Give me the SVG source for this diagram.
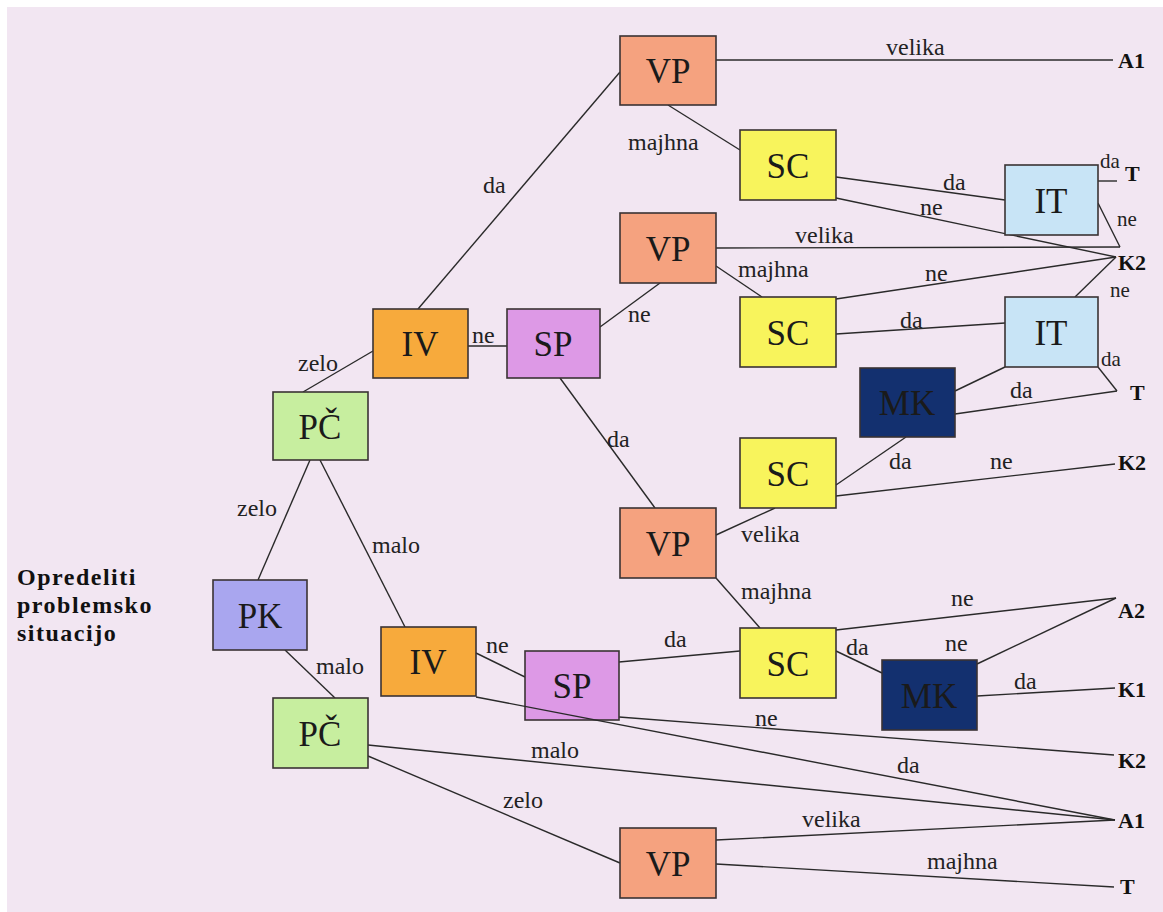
<svg xmlns="http://www.w3.org/2000/svg" width="1163" height="912" viewBox="0 0 1163 912" font-family="Liberation Serif, DejaVu Serif, serif">
<style>
.n{stroke:#3a3334;stroke-width:1.6}
.t{font-family:'Liberation Serif',serif;font-size:35px;fill:#1a1a1a;text-anchor:middle}
.l{font-family:'Liberation Serif',serif;font-size:24px;fill:#222}
.s{font-size:21px}
.e{font-family:'Liberation Serif',serif;font-size:22px;font-weight:bold;fill:#111}
.c line{stroke:#2a2a2a;stroke-width:1.4}
.vp{fill:#f5a27f}.sc{fill:#f8f45c}.it{fill:#c8e4f6}.iv{fill:#f7aa3c}.sp{fill:#dd99e6}.mk{fill:#13306f}.pc{fill:#c7ee9f}.pk{fill:#a9a6ef}
</style>
<rect width="1163" height="912" fill="#ffffff"/>
<rect x="7" y="7" width="1156" height="905" fill="#f2e6f2"/>
<g class="c" id="connectors">
<line x1="716" y1="60" x2="1113" y2="60"/>
<line x1="668" y1="105" x2="740" y2="150"/>
<line x1="418" y1="309" x2="620" y2="72"/>
<line x1="836" y1="177" x2="1005" y2="200"/>
<line x1="836" y1="198" x2="1116" y2="257"/>
<line x1="1098" y1="181" x2="1117" y2="181"/>
<line x1="1098" y1="203" x2="1120" y2="247"/>
<line x1="716" y1="248" x2="1120" y2="247"/>
<line x1="716" y1="266" x2="762" y2="297"/>
<line x1="836" y1="299" x2="1116" y2="257"/>
<line x1="1075" y1="297" x2="1116" y2="257"/>
<line x1="600" y1="327" x2="660" y2="283"/>
<line x1="468" y1="346" x2="507" y2="346"/>
<line x1="836" y1="334" x2="1005" y2="323"/>
<line x1="1005" y1="367" x2="955" y2="391"/>
<line x1="1098" y1="367" x2="1117" y2="391"/>
<line x1="955" y1="414" x2="1117" y2="391"/>
<line x1="303" y1="392" x2="373" y2="351"/>
<line x1="560" y1="378" x2="655" y2="508"/>
<line x1="836" y1="496" x2="1115" y2="464"/>
<line x1="836" y1="485" x2="906" y2="437"/>
<line x1="716" y1="535" x2="775" y2="508"/>
<line x1="716" y1="578" x2="760" y2="628"/>
<line x1="258" y1="580" x2="310" y2="460"/>
<line x1="320" y1="460" x2="405" y2="627"/>
<line x1="285" y1="650" x2="335" y2="698"/>
<line x1="619" y1="662" x2="740" y2="651"/>
<line x1="836" y1="630" x2="1116" y2="598"/>
<line x1="836" y1="651" x2="882" y2="673"/>
<line x1="977" y1="664" x2="1116" y2="598"/>
<line x1="977" y1="696" x2="1115" y2="688"/>
<line x1="476" y1="653" x2="525" y2="677"/>
<line x1="619" y1="717" x2="1114" y2="755"/>
<line x1="368" y1="745" x2="1115" y2="820"/>
<line x1="368" y1="756" x2="620" y2="863"/>
<line x1="716" y1="840" x2="1115" y2="820"/>
<line x1="716" y1="864" x2="1114" y2="887"/>
</g>
<g id="edge-labels">
<text class="l" x="886" y="55">velika</text>
<text class="l" x="628" y="150">majhna</text>
<text class="l" x="483" y="193">da</text>
<text class="l" x="943" y="190">da</text>
<text class="l" x="920" y="215">ne</text>
<text class="l s" x="1100" y="168">da</text>
<text class="l s" x="1117" y="226">ne</text>
<text class="l" x="795" y="243">velika</text>
<text class="l" x="738" y="277">majhna</text>
<text class="l" x="925" y="281">ne</text>
<text class="l s" x="1110" y="297">ne</text>
<text class="l" x="628" y="322">ne</text>
<text class="l" x="472" y="343">ne</text>
<text class="l" x="900" y="328">da</text>
<text class="l s" x="1101" y="366">da</text>
<text class="l" x="1010" y="398">da</text>
<text class="l" x="298" y="371">zelo</text>
<text class="l" x="607" y="447">da</text>
<text class="l" x="889" y="469">da</text>
<text class="l" x="990" y="469">ne</text>
<text class="l" x="741" y="542">velika</text>
<text class="l" x="741" y="599">majhna</text>
<text class="l" x="237" y="516">zelo</text>
<text class="l" x="372" y="553">malo</text>
<text class="l" x="316" y="674">malo</text>
<text class="l" x="664" y="647">da</text>
<text class="l" x="951" y="606">ne</text>
<text class="l" x="846" y="655">da</text>
<text class="l" x="945" y="651">ne</text>
<text class="l" x="1014" y="689">da</text>
<text class="l" x="486" y="653">ne</text>
<text class="l" x="755" y="726">ne</text>
<text class="l" x="897" y="773">da</text>
<text class="l" x="531" y="758">malo</text>
<text class="l" x="503" y="808">zelo</text>
<text class="l" x="802" y="827">velika</text>
<text class="l" x="927" y="869">majhna</text>
</g>
<g id="end-labels">
<text class="e" x="1118" y="68">A1</text>
<text class="e" x="1125" y="181">T</text>
<text class="e" x="1118" y="270">K2</text>
<text class="e" x="1130" y="400">T</text>
<text class="e" x="1118" y="470">K2</text>
<text class="e" x="1118" y="618">A2</text>
<text class="e" x="1118" y="697">K1</text>
<text class="e" x="1118" y="768">K2</text>
<text class="e" x="1118" y="828">A1</text>
<text class="e" x="1120" y="894">T</text>
</g>
<g id="title" font-family="Liberation Serif, serif" font-size="24" font-weight="bold" fill="#111" letter-spacing="1.5">
<text x="17" y="585">Opredeliti</text>
<text x="17" y="613">problemsko</text>
<text x="17" y="641">situacijo</text>
</g>
<g id="VP1"><rect class="n vp" x="620" y="36" width="96" height="69"/><text class="t" x="668" y="83">VP</text></g>
<g id="SC1"><rect class="n sc" x="740" y="130" width="96" height="70"/><text class="t" x="788" y="178">SC</text></g>
<g id="IT1"><rect class="n it" x="1005" y="165" width="93" height="70"/><text class="t" x="1051" y="213">IT</text></g>
<g id="VP2"><rect class="n vp" x="620" y="213" width="96" height="70"/><text class="t" x="668" y="261">VP</text></g>
<g id="SC2"><rect class="n sc" x="740" y="297" width="96" height="70"/><text class="t" x="788" y="345">SC</text></g>
<g id="IT2"><rect class="n it" x="1005" y="297" width="93" height="70"/><text class="t" x="1051" y="345">IT</text></g>
<g id="IV1"><rect class="n iv" x="373" y="309" width="95" height="69"/><text class="t" x="420" y="356">IV</text></g>
<g id="SP1"><rect class="n sp" x="507" y="309" width="93" height="69"/><text class="t" x="553" y="356">SP</text></g>
<g id="MK1"><rect class="n mk" x="860" y="368" width="95" height="69"/><text class="t" x="907" y="415" fill="#0b1a3f">MK</text></g>
<g id="PC1"><rect class="n pc" x="273" y="392" width="95" height="68"/><text class="t" x="320" y="439">PČ</text></g>
<g id="SC3"><rect class="n sc" x="740" y="438" width="96" height="70"/><text class="t" x="788" y="486">SC</text></g>
<g id="VP3"><rect class="n vp" x="620" y="508" width="96" height="70"/><text class="t" x="668" y="556">VP</text></g>
<g id="PK"><rect class="n pk" x="213" y="580" width="94" height="70"/><text class="t" x="260" y="628">PK</text></g>
<g id="SC4"><rect class="n sc" x="740" y="628" width="96" height="70"/><text class="t" x="788" y="676">SC</text></g>
<g id="IV2"><rect class="n iv" x="381" y="627" width="95" height="69"/><text class="t" x="428" y="674">IV</text></g>
<g id="SP2"><rect class="n sp" x="525" y="651" width="94" height="69"/><text class="t" x="572" y="698">SP</text></g>
<g id="MK2"><rect class="n mk" x="882" y="660" width="95" height="70"/><text class="t" x="929" y="708" fill="#0b1a3f">MK</text></g>
<g id="PC2"><rect class="n pc" x="273" y="698" width="95" height="70"/><text class="t" x="320" y="746">PČ</text></g>
<g id="VP4"><rect class="n vp" x="620" y="828" width="96" height="70"/><text class="t" x="668" y="876">VP</text></g>
<g class="c" id="connectors-over">
<line x1="476" y1="697" x2="1115" y2="820"/>
</g>
</svg>
